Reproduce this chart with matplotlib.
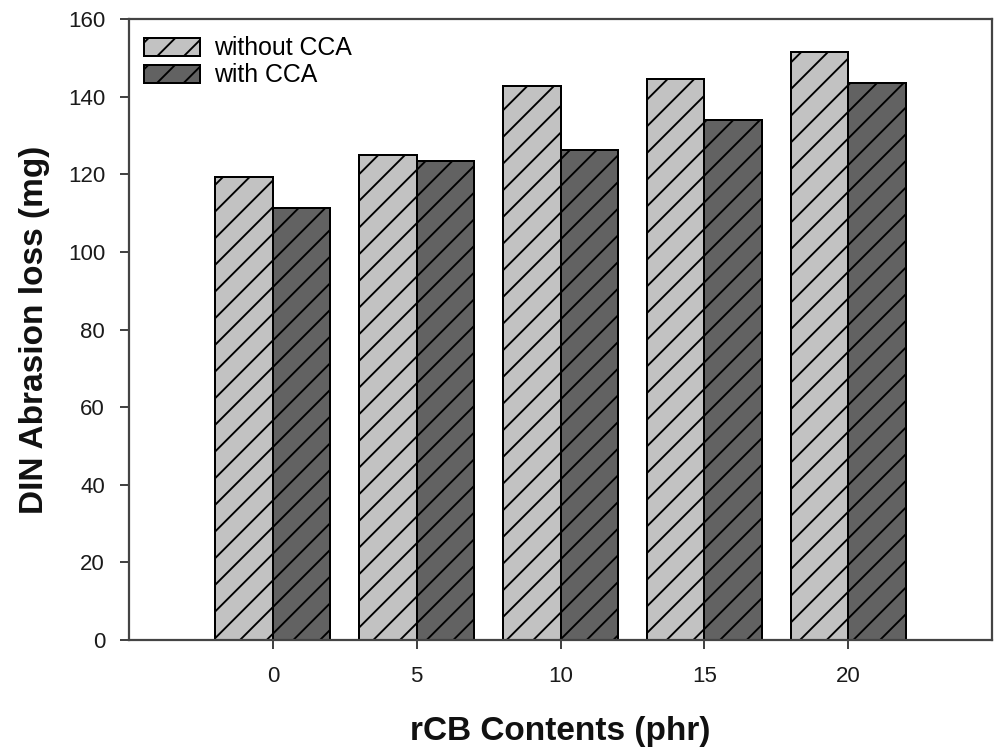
import matplotlib
matplotlib.use("Agg")
import matplotlib.pyplot as plt
import numpy as np

categories = [0, 5, 10, 15, 20]
without_cca = [119.3, 124.9, 142.7, 144.6, 151.5]
with_cca = [111.2, 123.3, 126.2, 134.0, 143.6]
series_labels = ["without CCA", "with CCA"]
yticks = [0, 20, 40, 60, 80, 100, 120, 140, 160]

DPI = 160
plt.rcParams['font.family'] = ['Liberation Sans', 'DejaVu Sans']
plt.rcParams['hatch.linewidth'] = 0.85
plt.rcParams['hatch.color'] = 'black'

fig = plt.figure(figsize=(1002 / DPI, 753 / DPI), dpi=DPI)
ax = fig.add_axes([129 / 1002, 1 - 640 / 753, (992 - 129) / 1002, (640 - 19) / 753])

x = np.array(categories, dtype=float)
w = 2.0
ax.bar(x - w / 2, without_cca, width=w, color='#c2c2c2', edgecolor='black',
       linewidth=0.9, hatch='//', label=series_labels[0], zorder=2)
ax.bar(x + w / 2, with_cca, width=w, color='#626262', edgecolor='black',
       linewidth=0.9, hatch='//', label=series_labels[1], zorder=2)

ax.set_xlim(-5, 25)
ax.set_ylim(0, 160)
ax.set_xticks(categories)
ax.set_xticklabels([str(c) for c in categories])
ax.set_yticks(yticks)

for s in ax.spines.values():
    s.set_color('#444444')
    s.set_linewidth(1.0)

ax.tick_params(axis='both', direction='out', length=4, width=0.9, color='#444444',
               labelsize=10, labelcolor='#1a1a1a')
ax.tick_params(axis='x', pad=7.5)
ax.tick_params(axis='y', pad=6.8)

ax.set_xlabel("rCB Contents (phr)", fontsize=15, fontweight='bold', color='#111111')
ax.set_ylabel("DIN Abrasion loss (mg)", fontsize=15, fontweight='bold', color='#111111')
ax.xaxis.set_label_coords(0.5, -0.148)
ax.yaxis.set_label_coords(-0.109, 0.5)
ax.xaxis.label.set_va('center')
ax.yaxis.label.set_va('center')

leg = ax.legend(loc='upper left', bbox_to_anchor=(0.0174, 0.972), frameon=False,
                fontsize=11.2, handlelength=2.25, handleheight=0.74,
                handletextpad=0.55, labelspacing=0.12, borderpad=0, borderaxespad=0)

fig.savefig("out.png", dpi=DPI)
